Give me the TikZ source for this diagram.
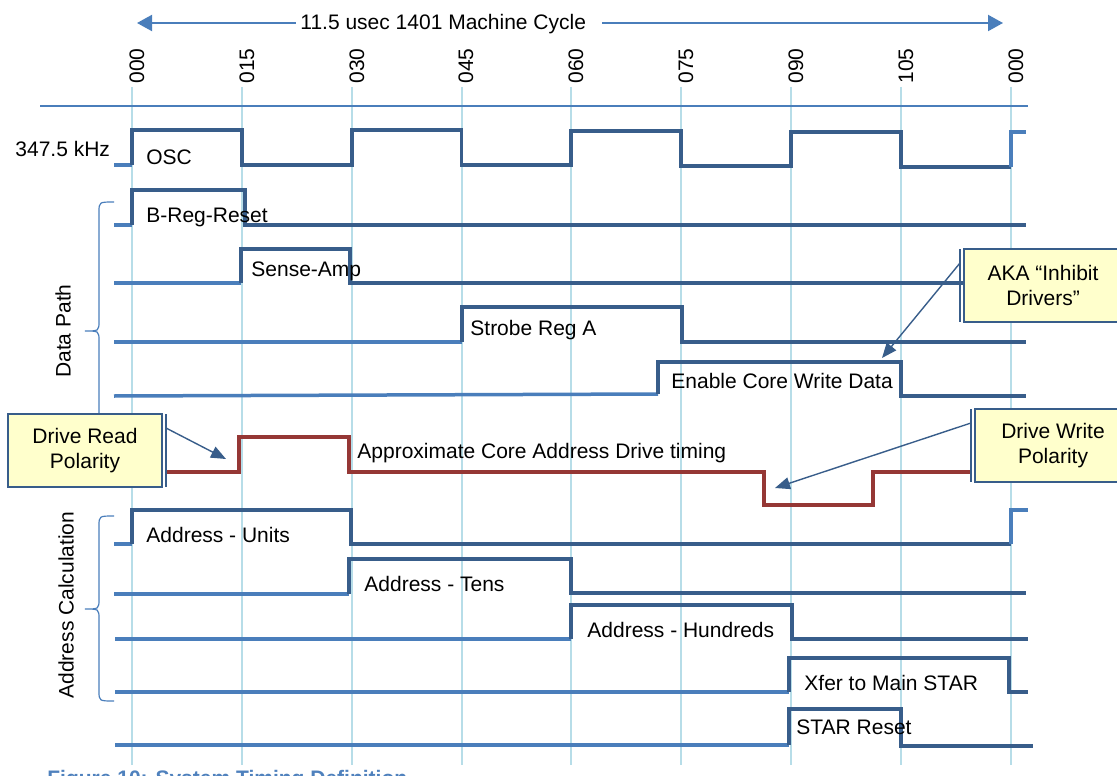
\documentclass[tikz,border=0pt]{standalone}
\usepackage{fontspec}
\setmainfont{Liberation Sans}
\usetikzlibrary{arrows.meta}

\definecolor{gridblue}{HTML}{B7DDE8}
\definecolor{lineblue}{HTML}{4A7EBB}
\definecolor{sigdark}{HTML}{385D8A}
\definecolor{sigred}{HTML}{953735}
\definecolor{noteyellow}{HTML}{FFFFCC}
\definecolor{capblue}{HTML}{4F81BD}

\tikzset{
  lbl/.style={anchor=base west, inner sep=0pt, font=\fontsize{10.5}{12.5}\selectfont},
  ticklbl/.style={rotate=90, anchor=west, inner sep=0pt, font=\fontsize{10.5}{12.5}\selectfont},
  grplbl/.style={rotate=90, inner sep=0pt, font=\fontsize{10.5}{12.5}\selectfont},
  gridline/.style={draw=gridblue, line width=1pt},
  siglo/.style={draw=lineblue, line width=1.75pt},
  sighi/.style={draw=sigdark, line width=1.75pt},
  sigrd/.style={draw=sigred, line width=1.75pt},
  brace/.style={draw=lineblue, line width=0.6pt},
  note/.style={draw=sigdark, line width=0.75pt, fill=noteyellow, align=center,
    minimum height=36.5pt, inner sep=0pt, outer sep=0pt,
    font=\fontsize{10.5}{12.5}\selectfont},
  notebar/.style={draw=sigdark, line width=0.75pt},
  notearrow/.style={draw=sigdark, line width=0.7pt, ->, >={Triangle[length=7.5pt,width=6pt]}},
}

\begin{document}
\begin{tikzpicture}[x=0.5pt, y=-0.5pt, >={Triangle[length=7.5pt,width=8pt]}]
  \useasboundingbox (0,0) rectangle (1117,775);

  % time grid
  \draw[gridline] (132,87) -- (132,765) (242,87) -- (242,765) (352,87) -- (352,765)
    (461.5,87) -- (461.5,765) (571,87) -- (571,765) (681,87) -- (681,765)
    (791,87) -- (791,765) (901,87) -- (901,765) (1011,87) -- (1011,765);
  \draw[draw=lineblue, line width=1pt] (40,106) -- (1028,106);

  \node[ticklbl] (t0) at (137,84) {000};
  \node[ticklbl] (t1) at (247,84) {015};
  \node[ticklbl] (t2) at (357,84) {030};
  \node[ticklbl] (t3) at (466,84) {045};
  \node[ticklbl] (t4) at (576,84) {060};
  \node[ticklbl] (t5) at (686,84) {075};
  \node[ticklbl] (t6) at (796,84) {090};
  \node[ticklbl] (t7) at (906,84) {105};
  \node[ticklbl] (t8) at (1016,84) {000};

  % machine cycle
  \node[lbl, inner xsep=2pt] (mc) at (296,30) {11.5 usec 1401 Machine Cycle};
  \coordinate (mcl) at (137,23);
  \coordinate (mcr) at (1003,23);
  \draw[draw=lineblue, line width=1pt, <-] (mcl) -- (mcl -| mc.west);
  \draw[draw=lineblue, line width=1pt, ->] ([xshift=6pt]mcr -| mc.east) -- (mcr);

  % groups
  \draw[brace] (114,202) .. controls (99,202) .. (99,212) -- (99,321)
    .. controls (99,331) .. (85,331) .. controls (99,331) .. (99,341) -- (99,450)
    .. controls (99,460) .. (114,460);
  \draw[brace] (114,516) .. controls (99,516) .. (99,526) -- (99,599)
    .. controls (99,609) .. (85,609) .. controls (99,609) .. (99,619) -- (99,691)
    .. controls (99,701) .. (114,701);
  \node[grplbl] (dp) at (63,331) {Data Path};
  \node[grplbl] (ac) at (66,605) {Address Calculation};

  % OSC
  \draw[siglo] (114,165) -- (132,165);
  \draw[sighi] (132,165) -- (132,130) -- (242,130) -- (242,165) -- (352,165) -- (352,130)
    -- (461.5,130) -- (461.5,165) -- (571,165) -- (571,131) -- (681,131) -- (681,166)
    -- (791,166) -- (791,132) -- (901,132) -- (901,167) -- (1011,167);
  \draw[siglo] (1011,167) -- (1011,132) -- (1026,132);
  \node[lbl] (khz) at (15,157) {347.5 kHz};
  \node[lbl] (osc) at (146,165) {OSC};

  % data path
  \draw[siglo] (114,225) -- (132,225);
  \draw[sighi] (132,225) -- (132,190) -- (245,190) -- (245,225) -- (1026,225);
  \node[lbl] (breg) at (146,222) {B-Reg-Reset};

  \draw[siglo] (114,283) -- (241,283);
  \draw[sighi] (241,283) -- (241,249) -- (350,249) -- (350,283) -- (1026,283);
  \node[lbl] (sense) at (251,276) {Sense-Amp};

  \draw[siglo] (114,342) -- (462,342);
  \draw[sighi] (462,342) -- (462,307) -- (682,307) -- (682,342) -- (1026,342);
  \node[lbl] (strobe) at (470,335) {Strobe Reg A};

  \draw[siglo] (114,396) -- (658,394);
  \draw[sighi] (658,394) -- (658,362) -- (901,362) -- (901,396) -- (1026,396);
  \node[lbl] (ecwd) at (671,388) {Enable Core Write Data};

  % core address drive
  \draw[sigrd] (165,472) -- (239,472) -- (239,437) -- (349,437) -- (349,472) -- (764,472)
    -- (764,505) -- (873,505) -- (873,472) -- (971,472);
  \node[lbl] (acad) at (357,458) {Approximate Core Address Drive timing};

  % address calculation
  \draw[siglo] (114,544) -- (132,544);
  \draw[sighi] (132,544) -- (132,510) -- (351,510) -- (351,544) -- (1011,544);
  \draw[siglo] (1011,544) -- (1011,510) -- (1028,510);
  \node[lbl] (units) at (146,542) {Address - Units};

  \draw[siglo] (114,594) -- (349,594);
  \draw[sighi] (349,594) -- (349,559) -- (571,559) -- (571,593) -- (1026,593);
  \node[lbl] (tens) at (364,591) {Address - Tens};

  \draw[siglo] (115,639) -- (571,639);
  \draw[sighi] (571,639) -- (571,605) -- (792,605) -- (792,639) -- (1028,639);
  \node[lbl] (hund) at (587,637) {Address - Hundreds};

  \draw[siglo] (115,692) -- (789,692);
  \draw[sighi] (789,692) -- (789,658) -- (1009,658) -- (1009,692) -- (1028,692);
  \node[lbl] (xfer) at (804,690) {Xfer to Main STAR};

  \draw[siglo] (115,745) -- (789,745);
  \draw[sighi] (789,745) -- (789,709) -- (901,709) -- (901,746) -- (1033,746);
  \node[lbl] (sreset) at (796,734) {STAR Reset};

  % notes
  \node[note, minimum width=77pt] (drp) at (85,450.5) {Drive Read\\Polarity};
  \node[note, minimum width=79pt] (aka) at (1043,285.5) {AKA “Inhibit\\Drivers”};
  \node[note, minimum width=78pt] (dwp) at (1053,445.5) {Drive Write\\Polarity};
  \draw[notebar] ([xshift=2pt]drp.north east) -- ([xshift=2pt]drp.south east);
  \draw[notebar] ([xshift=-2pt]aka.north west) -- ([xshift=-2pt]aka.south west);
  \draw[notebar] ([xshift=-2pt]dwp.north west) -- ([xshift=-2pt]dwp.south west);

  \coordinate (drpend) at (226,459);
  \coordinate (akaend) at (882,358);
  \coordinate (dwpend) at (775,488);
  \draw[notearrow] ([shift={(2pt,-7pt)}]drp.north east) -- (drpend);
  \draw[notearrow] ([shift={(-2pt,-7pt)}]aka.north west) -- (akaend);
  \draw[notearrow] ([shift={(-2pt,-7pt)}]dwp.north west) -- (dwpend);

  % caption (cut off at the bottom)
  \node[lbl, font=\fontsize{10.5}{12.5}\selectfont\bfseries, text=capblue] (cap) at (47,785)
    {Figure 10: System Timing Definition};
\end{tikzpicture}
\end{document}
